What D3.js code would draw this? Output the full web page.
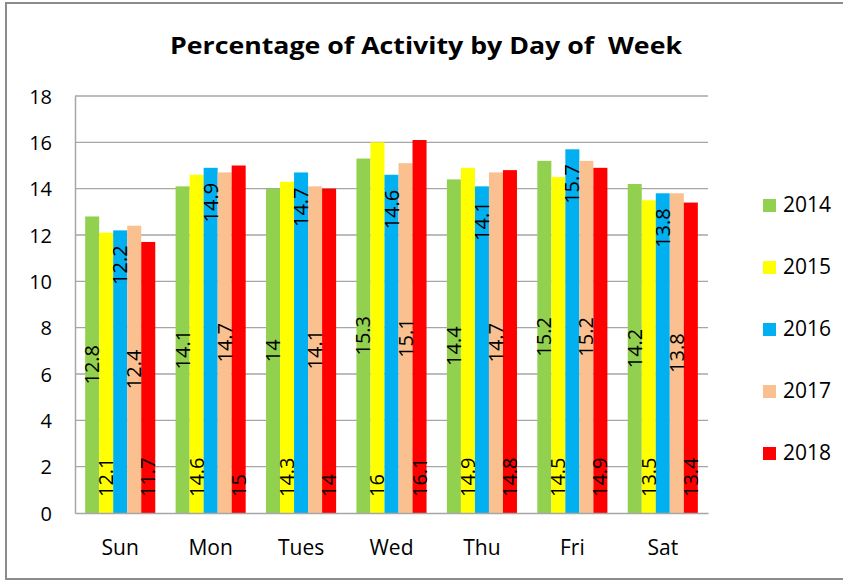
<!DOCTYPE html>
<html>
<head>
<meta charset="utf-8">
<script src="https://cdn.jsdelivr.net/npm/d3@7"></script>
<style>
  body { margin: 0; background: #fff; }
  text { font-family: "Open Sans", "Liberation Sans", sans-serif; fill: #000; }
</style>
</head>
<body>
<div id="chart"></div>
<script>
// data
var days = ["Sun", "Mon", "Tues", "Wed", "Thu", "Fri", "Sat"];
var years = ["2014", "2015", "2016", "2017", "2018"];
var colors = ["#92d050", "#ffff00", "#00b0f0", "#fac090", "#ff0000"];
var v2014 = [12.8, 14.1, 14, 15.3, 14.4, 15.2, 14.2];
var v2015 = [12.1, 14.6, 14.3, 16, 14.9, 14.5, 13.5];
var v2016 = [12.2, 14.9, 14.7, 14.6, 14.1, 15.7, 13.8];
var v2017 = [12.4, 14.7, 14.1, 15.1, 14.7, 15.2, 13.8];
var v2018 = [11.7, 15, 14, 16.1, 14.8, 14.9, 13.4];
var yTicks = [0, 2, 4, 6, 8, 10, 12, 14, 16, 18];
// where each series puts its value label
var labelPos = ["center", "base", "end", "center", "base"];

var series = [v2014, v2015, v2016, v2017, v2018];

var W = 843, H = 582;
var margin = { top: 96, right: 135, bottom: 69, left: 75 },
    width = W - margin.left - margin.right,
    height = H - margin.top - margin.bottom;

var svg = d3.select("#chart")
    .append("svg")
    .attr("width", W)
    .attr("height", H);

// outer frame
svg.append("rect")
    .attr("x", 6).attr("y", 3)
    .attr("width", 850).attr("height", 576)
    .attr("fill", "none")
    .attr("stroke", "#8c8c8c")
    .attr("stroke-width", 2);

// title
svg.append("text")
    .attr("x", 426).attr("y", 54)
    .attr("text-anchor", "middle")
    .attr("textLength", 512)
    .attr("lengthAdjust", "spacingAndGlyphs")
    .style("font-size", "24px")
    .style("font-weight", "bold")
    .text("Percentage of Activity by Day of \u00a0Week");

var g = svg.append("g")
    .attr("transform", "translate(" + margin.left + "," + margin.top + ")");

var x0 = d3.scaleBand().domain(days).range([0, width]).paddingInner(0.225).paddingOuter(0.1125);
var x1 = d3.scaleBand().domain(years).range([0, x0.bandwidth()]);
var y = d3.scaleLinear().domain([0, 18]).range([height, 0]);

// gridlines
g.selectAll(".grid")
    .data(yTicks.slice(1))
    .enter().append("line")
    .attr("x1", 0).attr("x2", width)
    .attr("y1", function (d) { return y(d); })
    .attr("y2", function (d) { return y(d); })
    .attr("stroke", "#a6a6a6")
    .attr("stroke-width", 1.3);

// y axis labels
var yAxis = g.append("g")
    .call(d3.axisLeft(y).tickValues(yTicks).tickSize(0).tickPadding(23));
yAxis.select(".domain").attr("stroke", "#a6a6a6").attr("stroke-width", 1.5);
yAxis.selectAll("text").style("font-size", "20px").attr("dy", "0.35em");

// bars
var groups = g.selectAll(".day")
    .data(days)
    .enter().append("g")
    .attr("transform", function (d) { return "translate(" + x0(d) + ",0)"; });

years.forEach(function (yr, si) {
    groups.append("rect")
        .attr("x", x1(yr))
        .attr("y", function (d, i) { return y(series[si][i]); })
        .attr("width", x1.bandwidth())
        .attr("height", function (d, i) { return height - y(series[si][i]); })
        .attr("fill", colors[si]);
});

// value labels, rotated
years.forEach(function (yr, si) {
    groups.append("text")
        .attr("transform", function (d, i) {
            var v = series[si][i];
            var cx = x1(yr) + x1.bandwidth() / 2;
            var ty;
            if (labelPos[si] == "center") ty = (y(v) + height) / 2;
            else if (labelPos[si] == "base") ty = height - 16;
            else ty = y(v) + 15;
            return "translate(" + cx + "," + ty + ")rotate(-90)";
        })
        .attr("text-anchor", labelPos[si] == "center" ? "middle" : (labelPos[si] == "base" ? "start" : "end"))
        .attr("dy", "0.35em")
        .style("font-size", "20px")
        .text(function (d, i) { return series[si][i]; });
});

// x axis
var xAxis = g.append("g")
    .attr("transform", "translate(0," + height + ")")
    .call(d3.axisBottom(x0).tickSize(0).tickPadding(27));
xAxis.select(".domain").attr("stroke", "#a6a6a6").attr("stroke-width", 1.5);
xAxis.selectAll("text").style("font-size", "21px");

// legend
var legend = svg.selectAll(".legend")
    .data(years)
    .enter().append("g")
    .attr("transform", function (d, i) { return "translate(763," + (205 + i * 62) + ")"; });
legend.append("rect")
    .attr("x", 0).attr("y", -6)
    .attr("width", 13).attr("height", 13)
    .attr("fill", function (d, i) { return colors[i]; });
legend.append("text")
    .attr("x", 20).attr("y", 0)
    .attr("dy", "0.35em")
    .style("font-size", "21px")
    .text(function (d) { return d; });
</script>
</body>
</html>
